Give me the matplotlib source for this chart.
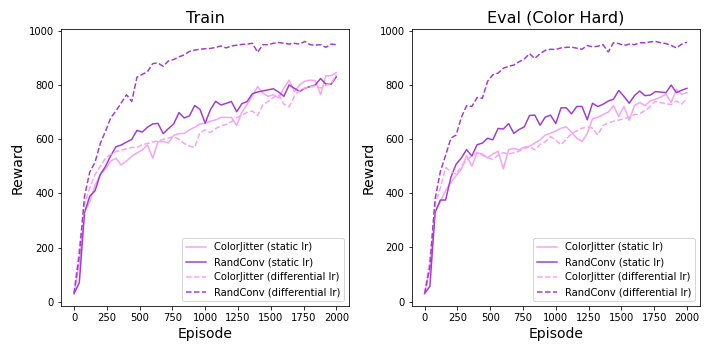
import matplotlib
matplotlib.use("Agg")
import matplotlib.pyplot as plt
import numpy as np

episodes = list(range(0, 2001, 40))

# Train
train_cj_static = [30, 140, 330, 370, 430, 470, 490, 520, 530, 505, 520, 537, 550, 561, 579, 531, 591,
                   592, 587, 615, 621, 622, 635, 645, 657, 659, 667, 672, 681, 681, 681, 651, 700, 730,
                   760, 795, 770, 759, 765, 753, 790, 819, 777, 801, 815, 819, 817, 765, 835, 835, 847]
train_rc_static = [30, 70, 330, 390, 410, 470, 500, 540, 573, 579, 590, 600, 633, 627, 645, 657, 659,
                   621, 640, 657, 699, 679, 687, 725, 711, 660, 710, 741, 727, 733, 740, 702, 732, 740,
                   769, 775, 779, 783, 787, 775, 759, 801, 789, 777, 789, 795, 801, 825, 804, 804, 831]
train_cj_diff = [30, 200, 360, 420, 470, 500, 530, 545, 555, 560, 565, 570, 570, 580, 585, 590, 595,
                 600, 605, 610, 600, 585, 575, 570, 625, 635, 625, 640, 650, 655, 665, 680, 690, 700,
                 705, 688, 728, 740, 755, 765, 730, 720, 760, 780, 790, 795, 798, 790, 800, 805, 840]
train_rc_diff = [30, 170, 390, 480, 515, 585, 630, 680, 705, 735, 765, 740, 830, 840, 850, 880, 882,
                 870, 890, 895, 905, 912, 925, 930, 933, 935, 936, 940, 945, 938, 945, 948, 951, 952,
                 955, 922, 950, 950, 955, 958, 955, 952, 955, 952, 962, 950, 948, 950, 940, 952, 950]

# Eval (Color Hard)
eval_cj_static = [30, 120, 330, 370, 410, 440, 465, 489, 539, 500, 549, 545, 531, 545, 555, 490, 561,
                  565, 560, 570, 573, 585, 597, 615, 621, 630, 640, 645, 625, 603, 591, 620, 675, 680,
                  690, 699, 723, 683, 720, 669, 723, 735, 723, 740, 747, 755, 765, 735, 783, 765, 771]
eval_rc_static = [30, 57, 330, 375, 375, 459, 507, 530, 561, 537, 579, 585, 603, 597, 639, 637, 657,
                  621, 635, 645, 687, 688, 651, 681, 688, 657, 715, 715, 693, 720, 720, 671, 732, 720,
                  728, 740, 747, 779, 757, 732, 760, 777, 760, 762, 775, 773, 771, 799, 771, 780, 787]
eval_cj_diff = [30, 160, 360, 420, 495, 480, 470, 500, 520, 540, 549, 540, 531, 525, 540, 550, 545,
                549, 555, 565, 573, 560, 580, 590, 609, 595, 579, 600, 620, 630, 640, 645, 640, 615,
                650, 660, 665, 670, 675, 681, 690, 693, 705, 720, 739, 735, 730, 727, 740, 729, 750]
eval_rc_diff = [30, 130, 380, 480, 540, 603, 615, 680, 723, 720, 753, 750, 813, 837, 843, 861, 868,
                873, 885, 895, 915, 897, 915, 927, 931, 930, 936, 938, 939, 935, 931, 945, 940, 942,
                948, 921, 955, 952, 945, 950, 948, 955, 955, 958, 960, 955, 952, 945, 936, 950, 957]

light = "#f5a3f5"
dark = "#a23ccf"

panels = [
    ("Train", train_cj_static, train_rc_static, train_cj_diff, train_rc_diff),
    ("Eval (Color Hard)", eval_cj_static, eval_rc_static, eval_cj_diff, eval_rc_diff),
]

fig, axs = plt.subplots(nrows=1, ncols=2, dpi=72)
fig.set_size_inches(712 / 72, 352 / 72)

for ax, (title, cj_s, rc_s, cj_d, rc_d) in zip(axs, panels):
    ax.plot(episodes, cj_s, color=light, linestyle="solid", linewidth=1.5, label="ColorJitter (static lr)")
    ax.plot(episodes, rc_s, color=dark, linestyle="solid", linewidth=1.5, label="RandConv (static lr)")
    ax.plot(episodes, cj_d, color=light, linestyle="dashed", linewidth=1.5, label="ColorJitter (differential lr)")
    ax.plot(episodes, rc_d, color=dark, linestyle="dashed", linewidth=1.5, label="RandConv (differential lr)")
    ax.set_title(title, fontsize=16)
    ax.set_xlabel("Episode", fontsize=14)
    ax.set_ylabel("Reward", fontsize=14)
    ax.set_xticks(range(0, 2001, 250))
    ax.tick_params(labelsize=10)
    ax.legend(loc="lower right", fontsize=10)

plt.tight_layout()
plt.savefig("out.png", dpi=72)
